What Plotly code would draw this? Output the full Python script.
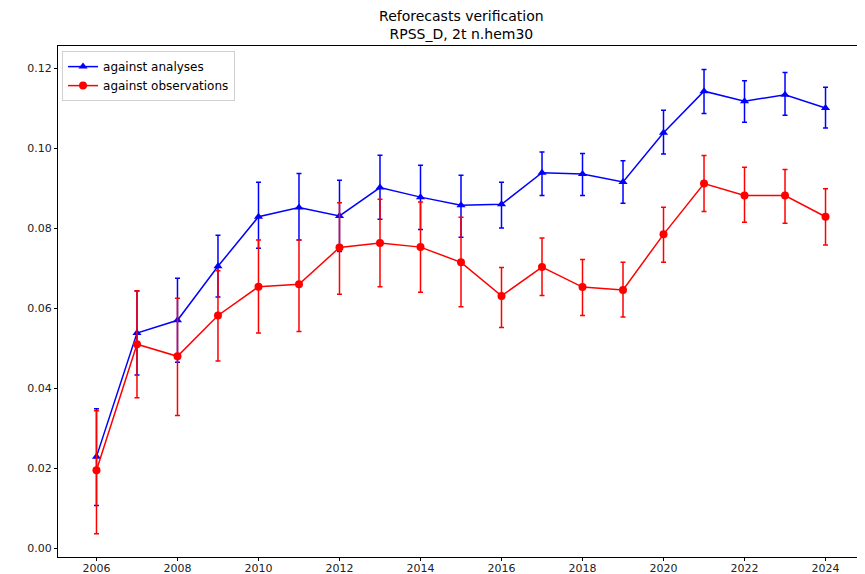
import plotly.graph_objects as go

years = list(range(2006, 2025))

# against analyses
ana = [0.0229, 0.0538, 0.0570, 0.0705, 0.0829, 0.0852, 0.0831, 0.0902, 0.0878, 0.0858,
       0.0860, 0.0939, 0.0936, 0.0916, 0.1039, 0.1143, 0.1118, 0.1134, 0.1101]
ana_hi = [0.0349, 0.0643, 0.0675, 0.0783, 0.0915, 0.0937, 0.0920, 0.0983, 0.0958, 0.0933,
          0.0915, 0.0991, 0.0987, 0.0969, 0.1095, 0.1197, 0.1169, 0.1190, 0.1153]
ana_lo = [0.0107, 0.0433, 0.0465, 0.0628, 0.0750, 0.0771, 0.0742, 0.0823, 0.0797, 0.0778,
          0.0801, 0.0882, 0.0882, 0.0863, 0.0986, 0.1087, 0.1065, 0.1083, 0.1051]

# against observations
obs = [0.0195, 0.0510, 0.0480, 0.0582, 0.0654, 0.0660, 0.0752, 0.0763, 0.0753, 0.0715,
       0.0631, 0.0703, 0.0653, 0.0646, 0.0785, 0.0912, 0.0882, 0.0882, 0.0829]
obs_hi = [0.0344, 0.0644, 0.0625, 0.0694, 0.0771, 0.0771, 0.0864, 0.0873, 0.0866, 0.0828,
          0.0702, 0.0776, 0.0722, 0.0715, 0.0853, 0.0982, 0.0953, 0.0947, 0.0899]
obs_lo = [0.0036, 0.0376, 0.0332, 0.0468, 0.0538, 0.0542, 0.0635, 0.0654, 0.0640, 0.0604,
          0.0552, 0.0632, 0.0582, 0.0578, 0.0715, 0.0842, 0.0815, 0.0813, 0.0758]


def errs(c, hi, lo):
    return dict(type="data", symmetric=False,
                array=[h - v for v, h in zip(c, hi)],
                arrayminus=[v - l for v, l in zip(c, lo)])


fig = go.Figure()
for name, c, hi, lo, col, sym in [
    ("against analyses", ana, ana_hi, ana_lo, "#0000ff", "triangle-up"),
    ("against observations", obs, obs_hi, obs_lo, "#ff0000", "circle"),
]:
    e = errs(c, hi, lo)
    e.update(color=col, thickness=1.5, width=2.5)
    fig.add_trace(go.Scatter(
        x=years, y=c, name=name, mode="lines+markers",
        line=dict(color=col, width=1.5),
        marker=dict(color=col, symbol=sym, size=8),
        error_y=e,
    ))

axis_style = dict(showline=True, linecolor="black", linewidth=1, mirror=True,
                  ticks="outside", ticklen=3, tickcolor="black",
                  showgrid=False, zeroline=False, automargin=False,
                  tickfont=dict(size=11, color="#222"))

# page body has an 8px margin, so the figure is sized to the rest of the window
fig.update_layout(
    template="none",
    width=857, height=566,
    margin=dict(l=50, r=1, t=38, b=17, pad=0),
    paper_bgcolor="white", plot_bgcolor="white",
    font=dict(family="DejaVu Sans", color="black"),
    title=dict(text="Reforecasts verification<br>RPSS_D, 2t n.hem30",
               x=0.529, xanchor="center", y=0.977, yanchor="top",
               font=dict(size=14)),
    xaxis=dict(range=[2005.05, 2024.95], tick0=2006, dtick=2,
               ticklabelstandoff=-2, **axis_style),
    yaxis=dict(range=[-0.0022, 0.1256], dtick=0.02, tickformat=".2f", **axis_style),
    legend=dict(x=0.005, y=0.99, xanchor="left", yanchor="top",
                bgcolor="rgba(255,255,255,0.8)", bordercolor="#d0d0d0", borderwidth=1,
                font=dict(size=12), tracegroupgap=0),
    showlegend=True,
)

fig.write_html("out.html")
